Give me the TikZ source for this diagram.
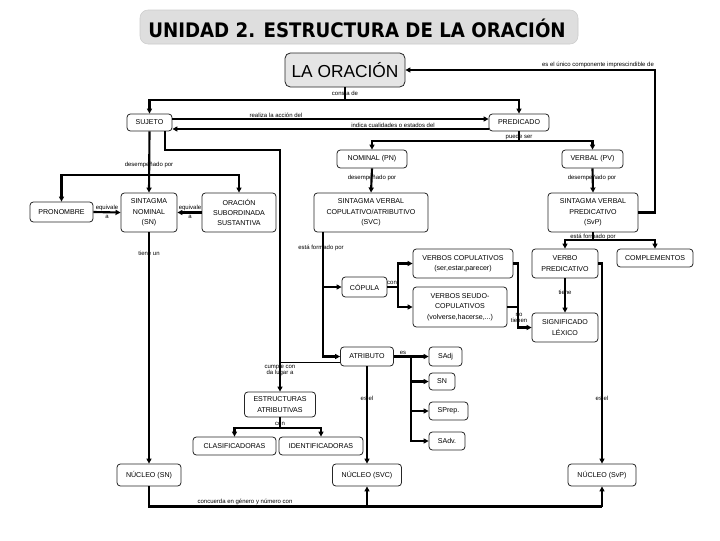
\documentclass[tikz,border=0pt]{standalone}
\usepackage{fontspec}
\setmainfont{Liberation Sans}
\newfontfamily\titlefont{DejaVu Sans}
\usetikzlibrary{arrows.meta}
\begin{document}
\tikzset{
 conn/.style={line width=1.6pt, black},
 thinconn/.style={line width=0.6pt, black},
 arr/.style={conn, -{Triangle[length=3.8pt,width=3.8pt]}},
 box/.style={draw=black!85, line width=0.6pt, rounded corners=2.5pt, fill=white, align=center, inner sep=0.5pt, font=\fontsize{5.3}{7.8}\selectfont},
 bx/.style 2 args={minimum width=#1*0.75pt, minimum height=#2*0.75pt},
 lab/.style={font=\fontsize{4.5}{4.8}\selectfont, inner sep=0.3pt, align=center},
}
\begin{tikzpicture}[x=0.75pt,y=-0.75pt]
\fill[white] (0,0) rectangle (720,540);
\useasboundingbox (0,0) rectangle (720,540);
% title
\node[fill=black!13, draw=black!20, rounded corners=6pt, bx={438}{34}, inner sep=0pt] (title) at (359,27) {};
\node[anchor=base, inner sep=0pt, font=\titlefont\bfseries\fontsize{15}{16}\selectfont] (titletxt) at (357,37.5) {\scalebox{0.91}[1]{UNIDAD 2. ESTRUCTURA DE LA ORACIÓN}};
% la oracion
\node[fill=black!10, draw=black!85, line width=0.6pt, rounded corners=4pt, bx={120}{34}, inner sep=0pt] (oracion) at (345,70) {};
\node[anchor=base, inner sep=0pt, font=\fontsize{13}{14}\selectfont] (oraciontxt) at (345,77.5) {LA ORACIÓN};
% boxes
\node[box,bx={45}{17}] (sujeto) at (149.5,122.5) {SUJETO};
\node[box,bx={60}{17}] (predicado) at (519,122.5) {PREDICADO};
\node[box,bx={70}{18}] (nominal) at (372,159) {NOMINAL (PN)};
\node[box,bx={61}{18}] (verbal) at (592.5,159) {VERBAL (PV)};
\node[box,bx={63}{20}] (pron) at (61.5,212) {PRONOMBRE};
\node[box,bx={56}{39}] (sn) at (149,212.5) {SINTAGMA\\NOMINAL\\(SN)};
\node[box,bx={74}{39}] (osub) at (239,212.5) {ORACIÓN\\SUBORDINADA\\SUSTANTIVA};
\node[box,bx={114}{39}] (svc) at (371,212.5) {SINTAGMA VERBAL\\COPULATIVO/ATRIBUTIVO\\(SVC)};
\node[box,bx={90}{39}] (svp) at (593,212.5) {SINTAGMA VERBAL\\PREDICATIVO\\(SvP)};
\node[box,bx={66}{29}] (vpred) at (565,263.5) {VERBO\\PREDICATIVO};
\node[box,bx={76}{18}] (compl) at (655,258) {COMPLEMENTOS};
\node[box,bx={45}{20}] (copula) at (364.5,287) {CÓPULA};
\node[box,bx={100}{29}] (vcop) at (463,263.5) {VERBOS COPULATIVOS\\(ser,estar,parecer)};
\node[box,bx={94}{40}] (vseudo) at (460,307) {VERBOS SEUDO-\\COPULATIVOS\\(volverse,hacerse,...)};
\node[box,bx={66}{29}] (siglex) at (565,327.5) {SIGNIFICADO\\LÉXICO};
\node[box,bx={53}{19}] (atributo) at (367,356.5) {ATRIBUTO};
\node[box,bx={33}{19}] (sadj) at (445.5,356.5) {SAdj};
\node[box,bx={26}{17}] (ssn) at (442,381.5) {SN};
\node[box,bx={39}{18}] (sprep) at (448.5,411) {SPrep.};
\node[box,bx={36}{18}] (sadv) at (447,441) {SAdv.};
\node[box,bx={71}{25}] (estr) at (280,404.5) {ESTRUCTURAS\\ATRIBUTIVAS};
\node[box,bx={83}{18}] (clas) at (234.5,446) {CLASIFICADORAS};
\node[box,bx={84}{18}] (ident) at (321,446) {IDENTIFICADORAS};
\node[box,bx={64}{22}] (nsn) at (149,475) {NÚCLEO (SN)};
\node[box,bx={69}{22}] (nsvc) at (367,475) {NÚCLEO (SVC)};
\node[box,bx={68}{22}] (nsvp) at (602,475) {NÚCLEO (SvP)};
% coordinates
\coordinate (c1) at (345,100);
\coordinate (c2) at (519,141);
\coordinate (c3) at (149,175);
\coordinate (c4) at (593,240);
\coordinate (c5) at (398,287);
\coordinate (c6) at (518,263.5);
\coordinate (c7) at (411,356.5);
\coordinate (c8) at (280,428);
\coordinate (c9) at (367,506.5);
\coordinate (c10) at (602,506.5);
\coordinate (c11) at (323,287);
\coordinate (c12) at (280,362);
% connectors
\draw[conn] (oracion.south) -- (c1);
\draw[arr] (c1) -| (sujeto.north);
\draw[arr] (c1) -| (predicado.north);
\draw[arr] (svp.east) -- ++(17,0) |- (oracion.east);
\draw[arr] (sujeto.east |- 0,119) -- (predicado.west |- 0,119);
\draw[arr] (predicado.west |- 0,129) -- (sujeto.east |- 0,129);
\draw[conn] (predicado.south) -- (c2);
\draw[arr] (c2) -| (nominal.north);
\draw[arr] (c2) -| (verbal.north);
\draw[arr] (nominal.south) -- (svc.north);
\draw[arr] (verbal.south) -- (svp.north);
\draw[arr] (sujeto.south) -- (sn.north);
\draw[arr] (c3) -| (pron.north);
\draw[arr] (c3) -| (osub.north);
\draw[arr] (pron.east) -- (sn.west);
\draw[arr] (osub.west) -- (sn.east);
\draw[arr] (sujeto.south -| 165,0) |- (280,150) -- (estr.north);
\draw[thinconn] (atributo.west |- c12) -- (c12);
\draw[arr] (svc.south -| 323,0) |- (atributo.west);
\draw[arr] (c11) -- (copula.west);
\draw[conn] (copula.east) -- (c5);
\draw[arr] (c5) |- (vcop.west);
\draw[arr] (c5) |- (vseudo.west);
\draw[arr] (vcop.east) -- (c6) |- (siglex.west);
\draw[conn] (vseudo.east) -- (vseudo.east -| c6);
\draw[conn] (svp.south) -- (c4);
\draw[arr] (c4) -| (vpred.north);
\draw[arr] (c4) -| (compl.north);
\draw[arr] (vpred.south) -- (siglex.north);
\draw[arr] (vpred.east) -| (nsvp.north);
\draw[arr] (atributo.east) -- (sadj.west);
\draw[arr] (c7) |- (ssn.west);
\draw[arr] (c7) |- (sprep.west);
\draw[arr] (c7) |- (sadv.west);
\draw[arr] (atributo.south) -- (nsvc.north);
\draw[conn] (estr.south) -- (c8);
\draw[arr] (c8) -| (clas.north);
\draw[arr] (c8) -| (ident.north);
\draw[arr] (sn.south) -- (nsn.north);
\draw[conn] (nsn.south) |- (c10);
\draw[arr] (c9) -- (nsvc.south);
\draw[arr] (c10) -- (nsvp.south);
% labels
\node[lab] (l1) at (345,93) {consta de};
\node[lab, anchor=south] (l2) at (598,68.5) {es el único componente imprescindible de};
\node[lab, anchor=south] (l3) at (276,118) {realiza la acción del};
\node[lab, anchor=south] (l4) at (393,128) {indica cualidades o estados del};
\node[lab] (l5) at (519,137) {puede ser};
\node[lab] (l6) at (372,178) {desempeñado por};
\node[lab] (l7) at (592,178) {desempeñado por};
\node[lab] (l8) at (149,165) {desempeñado por};
\node[lab] (l9) at (107,212) {equivale\\[1.5pt]a};
\node[lab] (l10) at (190,212) {equivale\\[1.5pt]a};
\node[lab] (l11) at (149,253) {tiene un};
\node[lab] (l12) at (593,236.5) {está formado por};
\node[lab] (l13) at (321,248) {está formado por};
\node[lab, anchor=south] (l14) at (392,285.5) {con};
\node[lab] (l15) at (519,318) {no\\tienen};
\node[lab] (l16) at (565,292) {tiene};
\node[lab, anchor=south] (l17) at (403,355) {es};
\node[lab] (l18) at (367,398) {es el};
\node[lab] (l19) at (602,398) {es el};
\node[lab] (l20) at (280,370) {cumple con\\da lugar a};
\node[lab] (l21) at (280,424) {con};
\node[lab, anchor=south] (l22) at (245,505) {concuerda en género y número con};
\end{tikzpicture}
\end{document}
